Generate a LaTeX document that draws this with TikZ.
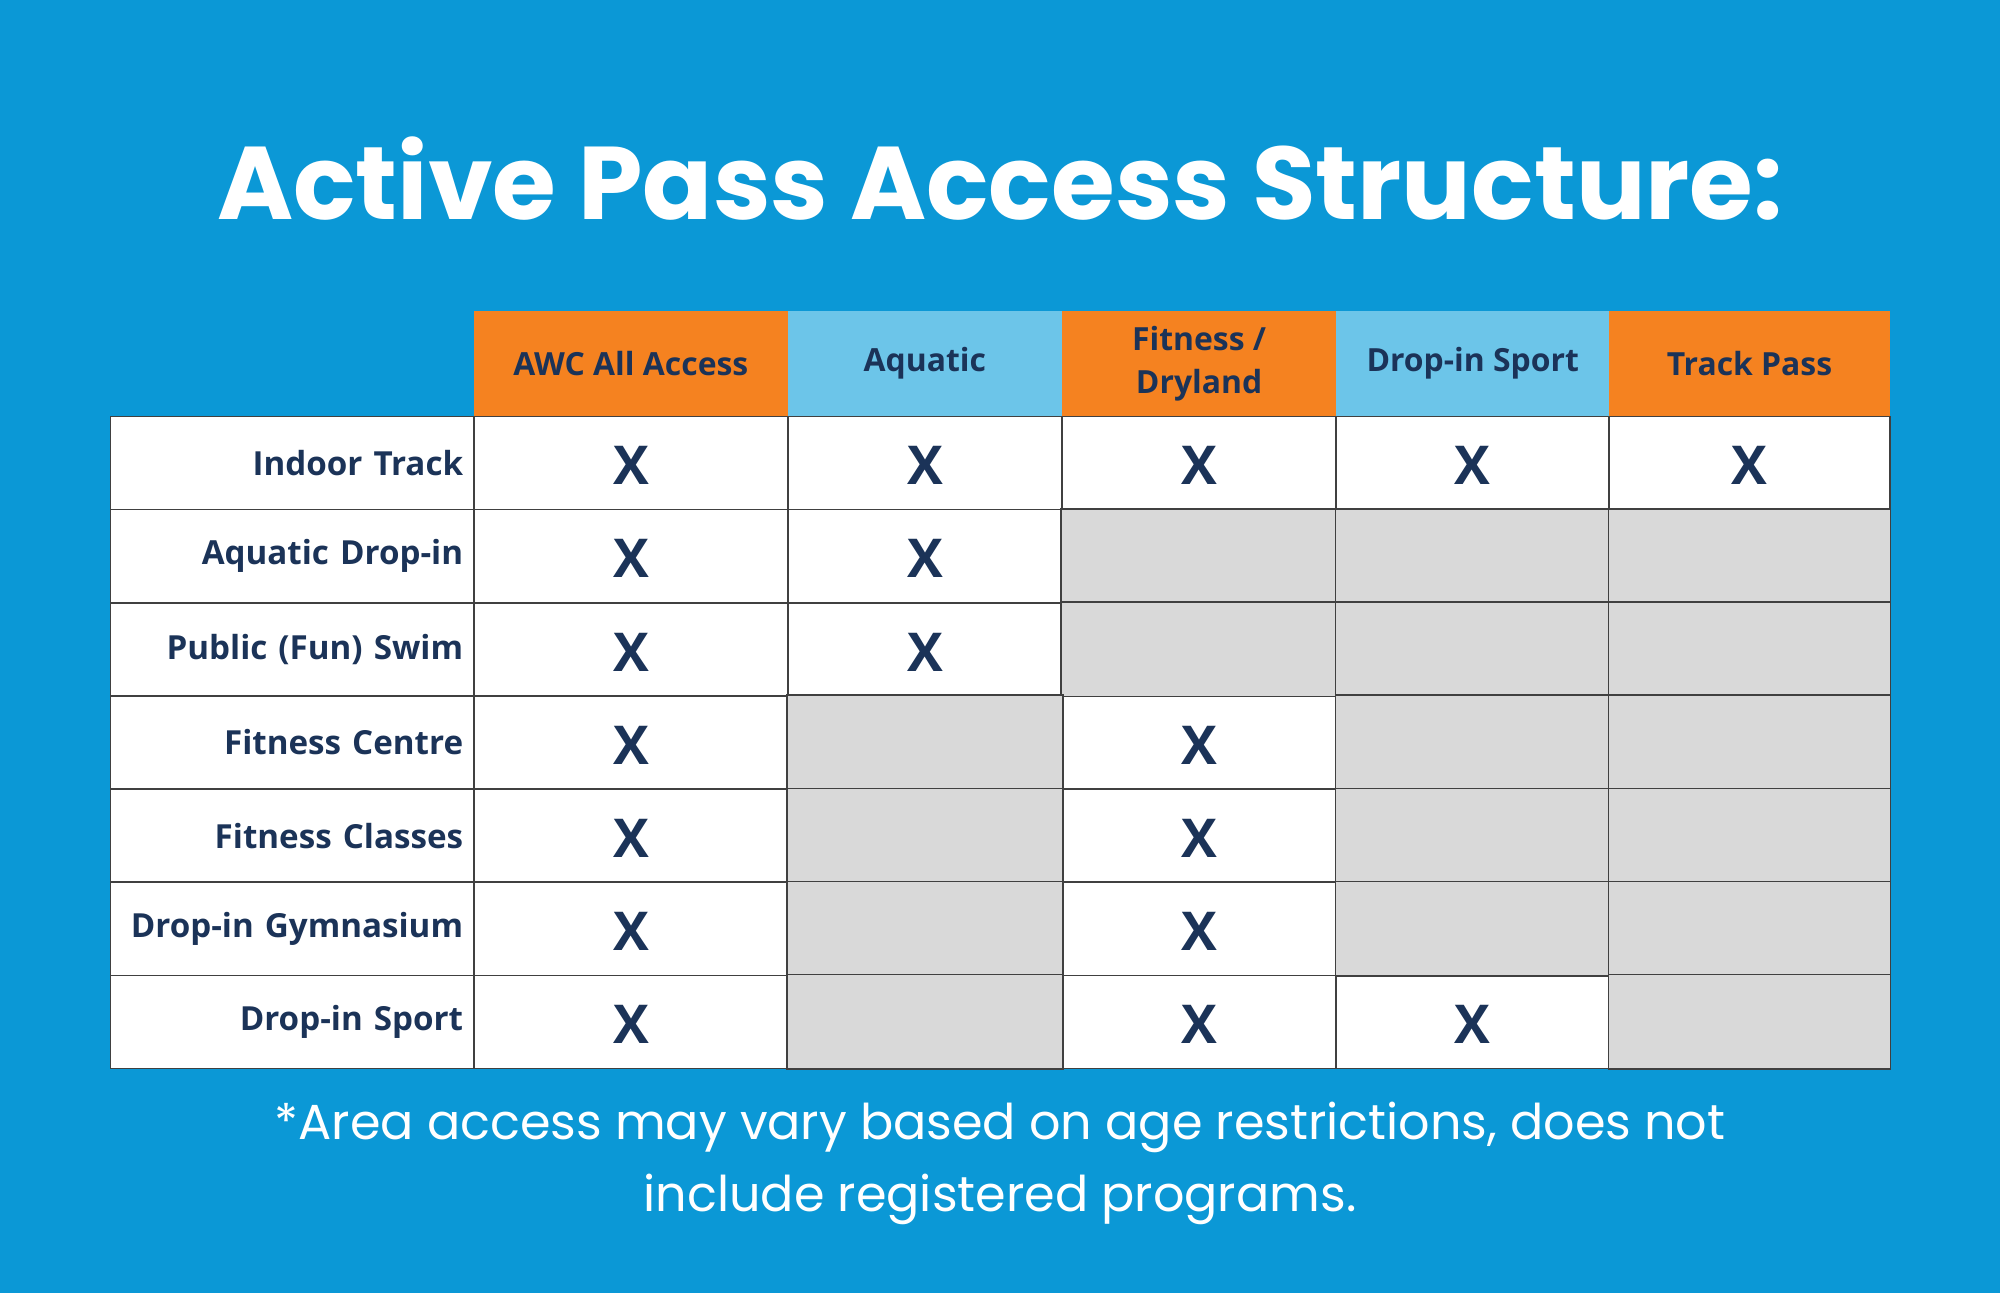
\documentclass[tikz,border=0pt]{standalone}
\usepackage{fontspec}
\setmainfont{Open Sans}
\newfontfamily\pop{Poppins}
\definecolor{bg}{RGB}{11,152,214}
\definecolor{org}{RGB}{245,130,32}
\definecolor{lbl}{RGB}{108,197,233}
\definecolor{gry}{RGB}{217,217,217}
\definecolor{navy}{RGB}{27,51,88}
\begin{document}
\begin{tikzpicture}[x=0.5pt,y=-0.5pt,
  cellst/.style={draw=black!75,line width=0.6pt,minimum height=36.5pt,inner sep=0pt,anchor=north west,text=navy},
  hdr/.style={cellst,draw=none,minimum height=41.5pt,font=\bfseries\fontsize{12.5}{17}\selectfont,align=center},
  xmark/.style={font=\bfseries\fontsize{21}{21}\selectfont,text=navy}]
\fill[bg] (0,0) rectangle (1568,1014);
\useasboundingbox (0,0) rectangle (1568,1014);
\node[text=white,font=\pop\bfseries\fontsize{40.5}{44}\selectfont] (title) at (784,140) {Active Pass Access Structure:};
\def\xs{{86,371,617,832,1047,1261,1481}}
% header
\foreach \i/\t/\cc in {1/{AWC All Access}/org,2/{Aquatic}/lbl,3/{Fitness /\\Dryland}/org,4/{Drop-in Sport}/lbl,5/{Track Pass}/org}{
  \pgfmathsetmacro\xa{\xs[\i]}\pgfmathsetmacro\xb{\xs[\i+1]}
  \node[hdr,fill=\cc,minimum width={(\xb-\xa)*0.5pt}] (h\i) at (\xa,243) {\t};}
% rows
\foreach \r/\t in {1/Indoor Track,2/Aquatic Drop-in,3/Public (Fun) Swim,4/Fitness Centre,5/Fitness Classes,6/Drop-in Gymnasium,7/Drop-in Sport}{
  \pgfmathsetmacro\ya{326+73*(\r-1)}
  \node[cellst,fill=white,minimum width=142.5pt,align=right,text width=134pt,font=\bfseries\fontsize{13}{15}\selectfont] (l\r) at (86,\ya) {\t};
  \foreach \i in {1,...,5}{
    \pgfmathsetmacro\xa{\xs[\i]}\pgfmathsetmacro\xb{\xs[\i+1]}
    \node[cellst,fill=white,minimum width={(\xb-\xa)*0.5pt}] (c\r\i) at (\xa,\ya) {};
  }}
\foreach \n in {c23,c24,c25,c33,c34,c35,c42,c44,c45,c52,c54,c55,c62,c64,c65,c72,c75}
  \filldraw[fill=gry,draw=black!75,line width=0.6pt] (\n.north west) rectangle (\n.south east);
\foreach \n in {c11,c12,c13,c14,c15,c21,c22,c31,c32,c41,c43,c51,c53,c61,c63,c71,c73,c74}
  \node[xmark] at ([yshift=-1pt]\n.center) {X};
\node[text=white,font=\pop\fontsize{19.3}{28}\selectfont,align=center] (note) at (784,912)
 {*Area access may vary based on age restrictions, does not\\include registered programs.};
\end{tikzpicture}
\end{document}
